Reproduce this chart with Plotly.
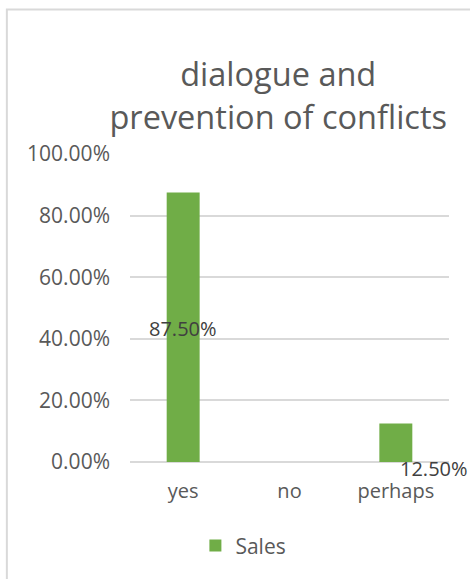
import plotly.graph_objects as go

categories = ["yes", "no", "perhaps"]
values = [0.875, 0.0, 0.125]
series_name = "Sales"
tick_vals = [0, 0.2, 0.4, 0.6, 0.8, 1.0]
tick_text = ["0.00%", "20.00%", "40.00%", "60.00%", "80.00%", "100.00%"]
label_text = ["87.50%", None, "12.50%"]

TXT = "#595959"
LBL = "#404040"
FONT = "Open Sans"

fig = go.Figure()
fig.add_trace(go.Bar(
    x=categories, y=values, name=series_name,
    marker=dict(color="#70ad47", line=dict(width=0)),
    width=0.31, showlegend=True,
))

# data labels
fig.add_annotation(x=categories[0], y=values[0] / 2, text=label_text[0],
                   showarrow=False, font=dict(family=FONT, size=20, color=LBL),
                   yshift=-1)
fig.add_annotation(x=categories[2], y=0, text=label_text[2],
                   showarrow=False, font=dict(family=FONT, size=20, color=LBL),
                   xshift=38, yshift=-6)

# chart-area border
fig.add_shape(type="rect", xref="paper", yref="paper",
              x0=-0.386, x1=1.3, y0=-0.6, y1=1.469,
              line=dict(color="#d9d9d9", width=2), fillcolor="rgba(0,0,0,0)", layer="below")

fig.update_layout(
    width=470, height=579,
    margin=dict(l=130, r=21, t=154, b=117, autoexpand=False),
    paper_bgcolor="white", plot_bgcolor="white",
    title=dict(text="dialogue and<br>prevention of conflicts",
               font=dict(family=FONT, size=32.5, color=TXT),
               x=0.592, xanchor="center", y=0.851, yanchor="middle"),
    font=dict(family=FONT, color=TXT, size=20),
    showlegend=True,
    legend=dict(orientation="h", x=0.205, xanchor="left", y=-0.272, yanchor="middle",
                font=dict(family=FONT, size=21, color=TXT), itemwidth=30),
)
fig.update_xaxes(range=[-0.5, 2.5], autorange=False, showgrid=False, showline=False,
                 ticks="", tickfont=dict(size=20, color=TXT), ticklabelstandoff=15)
fig.update_yaxes(range=[0, 1.0], autorange=False, tickvals=tick_vals, ticktext=tick_text,
                 showgrid=True, gridcolor="#d9d9d9", gridwidth=1.5,
                 zeroline=True, zerolinecolor="#d9d9d9", zerolinewidth=1.5,
                 showline=False, ticks="", tickfont=dict(size=21, color=TXT),
                 ticklabelstandoff=19)

fig.write_html("out.html", config={"displayModeBar": False},
               post_script="document.body.style.margin='0';")
